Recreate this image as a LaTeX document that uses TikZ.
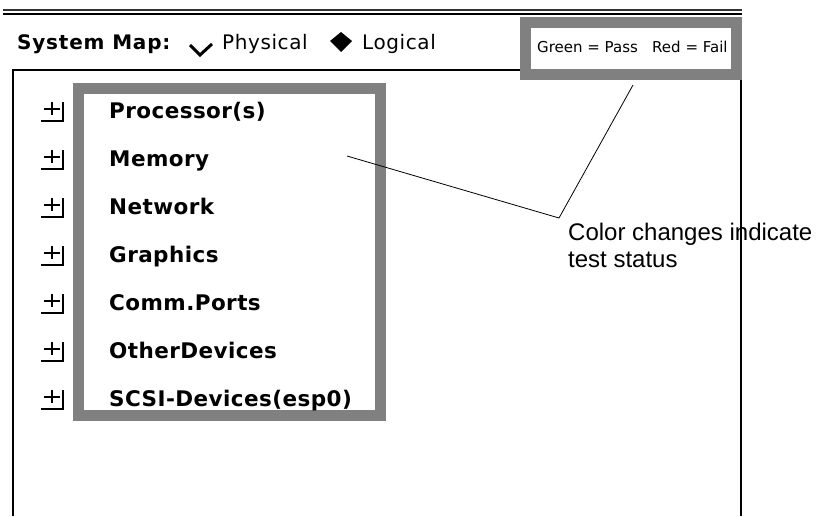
\documentclass[tikz,border=0pt]{standalone}
\usepackage{fontspec}
\setmainfont{DejaVu Sans}
\newfontfamily\mapFont[LetterSpace=4]{DejaVu Sans}
\newfontfamily\viewFont[LetterSpace=3]{DejaVu Sans}
\newfontfamily\itemFont[LetterSpace=2]{DejaVu Sans}
\newfontfamily\noteFont{Liberation Sans}
\definecolor{frameGray}{RGB}{128,128,128}

\tikzset{
  headText/.style={anchor=base west, inner sep=0pt},
  itemText/.style={anchor=base west, inner sep=0pt, font=\itemFont\bfseries\fontsize{21.5}{25}\selectfont},
  grayFrame/.style={draw=frameGray, line width=11pt},
  leader/.style={draw, line width=0.8pt},
}

\begin{document}
\begin{tikzpicture}[x=1pt, y=-1pt]
  \useasboundingbox (0,0) rectangle (818,516);
  \newcommand{\deviceRow}[3]{
    \draw[line width=2.8pt] (44,#2-9) -- (60,#2-9) (52,#2-16) -- (52,#2-3);
    \draw[line width=1.5pt] (41,#2+3) -- (63,#2+3) -- (63,#2-16);
    \node[itemText] (#1) at (109,#2) {#3};
  }

  \draw[line width=2pt, black!80] (3,10) -- (742,10);
  \draw[line width=1.5pt] (3,14) -- (742,14);

  \node[headText, font=\mapFont\bfseries\fontsize{20}{24}\selectfont] (mapLabel) at (17,50) {System Map:};
  \draw[line width=3pt] (190,45) -- (200,55) -- (212,44);
  \node[headText, font=\viewFont\fontsize{20}{24}\selectfont] (physical) at (222,50) {Physical};
  \fill (330,41) -- (341,32) -- (352,41) -- (341,52) -- cycle;
  \node[headText, font=\viewFont\fontsize{20}{24}\selectfont] (logical) at (362,50) {Logical};

  \draw[line width=2pt] (13,516) -- (13,70) -- (741,70) -- (741,516);

  \draw[grayFrame, fill=white] (525,22.5) rectangle (736.5,75);
  \node[headText, font=\fontsize{15}{18}\selectfont] (legend) at (537,53) {Green = Pass~~~Red = Fail};

  \draw[grayFrame] (78.5,89) rectangle (380,415);

  \deviceRow{processor}{118}{Processor(s)}
  \deviceRow{memory}{166}{Memory}
  \deviceRow{network}{214}{Network}
  \deviceRow{graphics}{262}{Graphics}
  \deviceRow{commPorts}{310}{Comm.Ports}
  \deviceRow{otherDevices}{358}{OtherDevices}
  \deviceRow{scsiDevices}{406}{SCSI-Devices(esp0)}

  \coordinate (legendTip) at (633,85);
  \coordinate (memoryTip) at (347,156);
  \coordinate (bend) at (559,218);
  \draw[leader] (memoryTip) -- (bend) -- (legendTip);

  \node[anchor=north west, inner sep=0pt, align=left, font=\noteFont\fontsize{24}{27}\selectfont] (statusNote) at (568,223) {Color changes indicate\\test status};
\end{tikzpicture}
\end{document}
